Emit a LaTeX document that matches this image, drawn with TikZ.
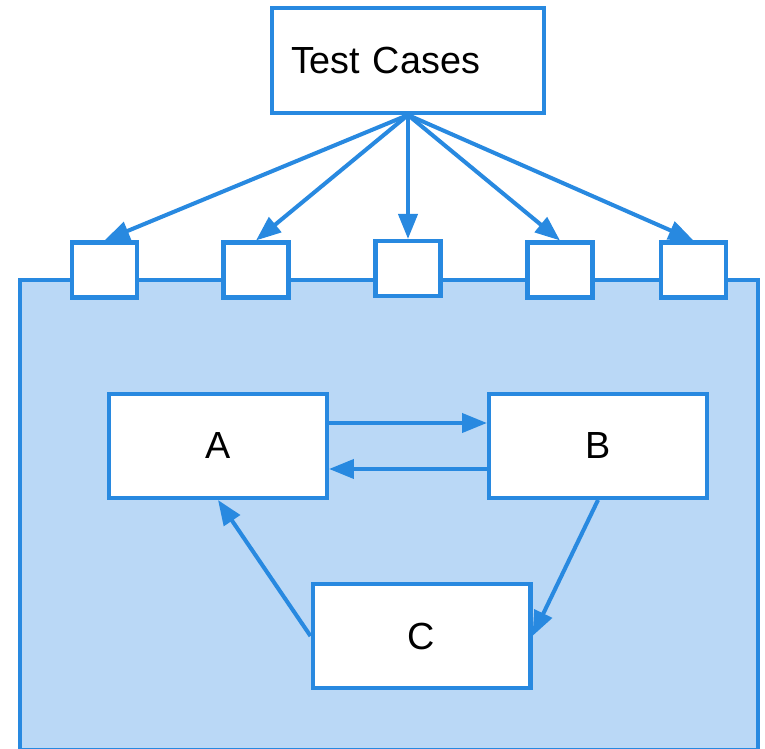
\documentclass[tikz,border=0pt]{standalone}
\usepackage{fontspec}
\setmainfont{Liberation Sans}
\usetikzlibrary{arrows.meta}

\definecolor{edgeblue}{RGB}{40,137,224}
\definecolor{fillblue}{RGB}{186,216,246}

\tikzset{
  box/.style={draw=edgeblue,fill=white,line width=2.3pt,minimum width=4.36cm,minimum height=2.08cm,font=\fontsize{21.5}{24}\selectfont},
  port/.style={draw=edgeblue,fill=white,line width=2.3pt,minimum width=1.3cm,minimum height=1.1cm,inner sep=0pt},
  link/.style={draw=edgeblue,line width=2.3pt,-{Triangle[length=0.5cm,width=0.38cm]}}
}

\begin{document}
\begin{tikzpicture}[x=0.02cm,y=-0.02cm]
\useasboundingbox (0,0) rectangle (765,749);
\begin{scope}
\clip (0,0) rectangle (765,749);
\draw[draw=edgeblue,fill=fillblue,line width=2.3pt] (20,280) rectangle (758,750);
\end{scope}
\node[box,minimum width=5.44cm,minimum height=2.1cm,text width=4.68cm,align=left,inner xsep=0.38cm] at (408,60.5) (tests) {Test Cases};
\node[port] at (104.5,270) (p1) {};
\node[port] at (256,270) (p2) {};
\node[port] at (408,268.5) (p3) {};
\node[port] at (560,270) (p4) {};
\node[port] at (693.5,270) (p5) {};
\node[box] at (218,446) (a) {A};
\node[box] at (598,446) (b) {B};
\node[box] at (421.5,636) (c) {C};
\draw[link] (tests.south) -- (p1.north);
\draw[link] (tests.south) -- (p2.north);
\draw[link] (tests.south) -- (p3.north);
\draw[link] (tests.south) -- (p4.north);
\draw[link] (tests.south) -- (p5.north);
\draw[link] ([yshift=0.46cm]a.east) -- ([yshift=0.46cm]b.west);
\draw[link] ([yshift=-0.46cm]b.west) -- ([yshift=-0.46cm]a.east);
\draw[link] (b.south) -- (c.east);
\draw[link] (c.west) -- (a.south);
\end{tikzpicture}
\end{document}
